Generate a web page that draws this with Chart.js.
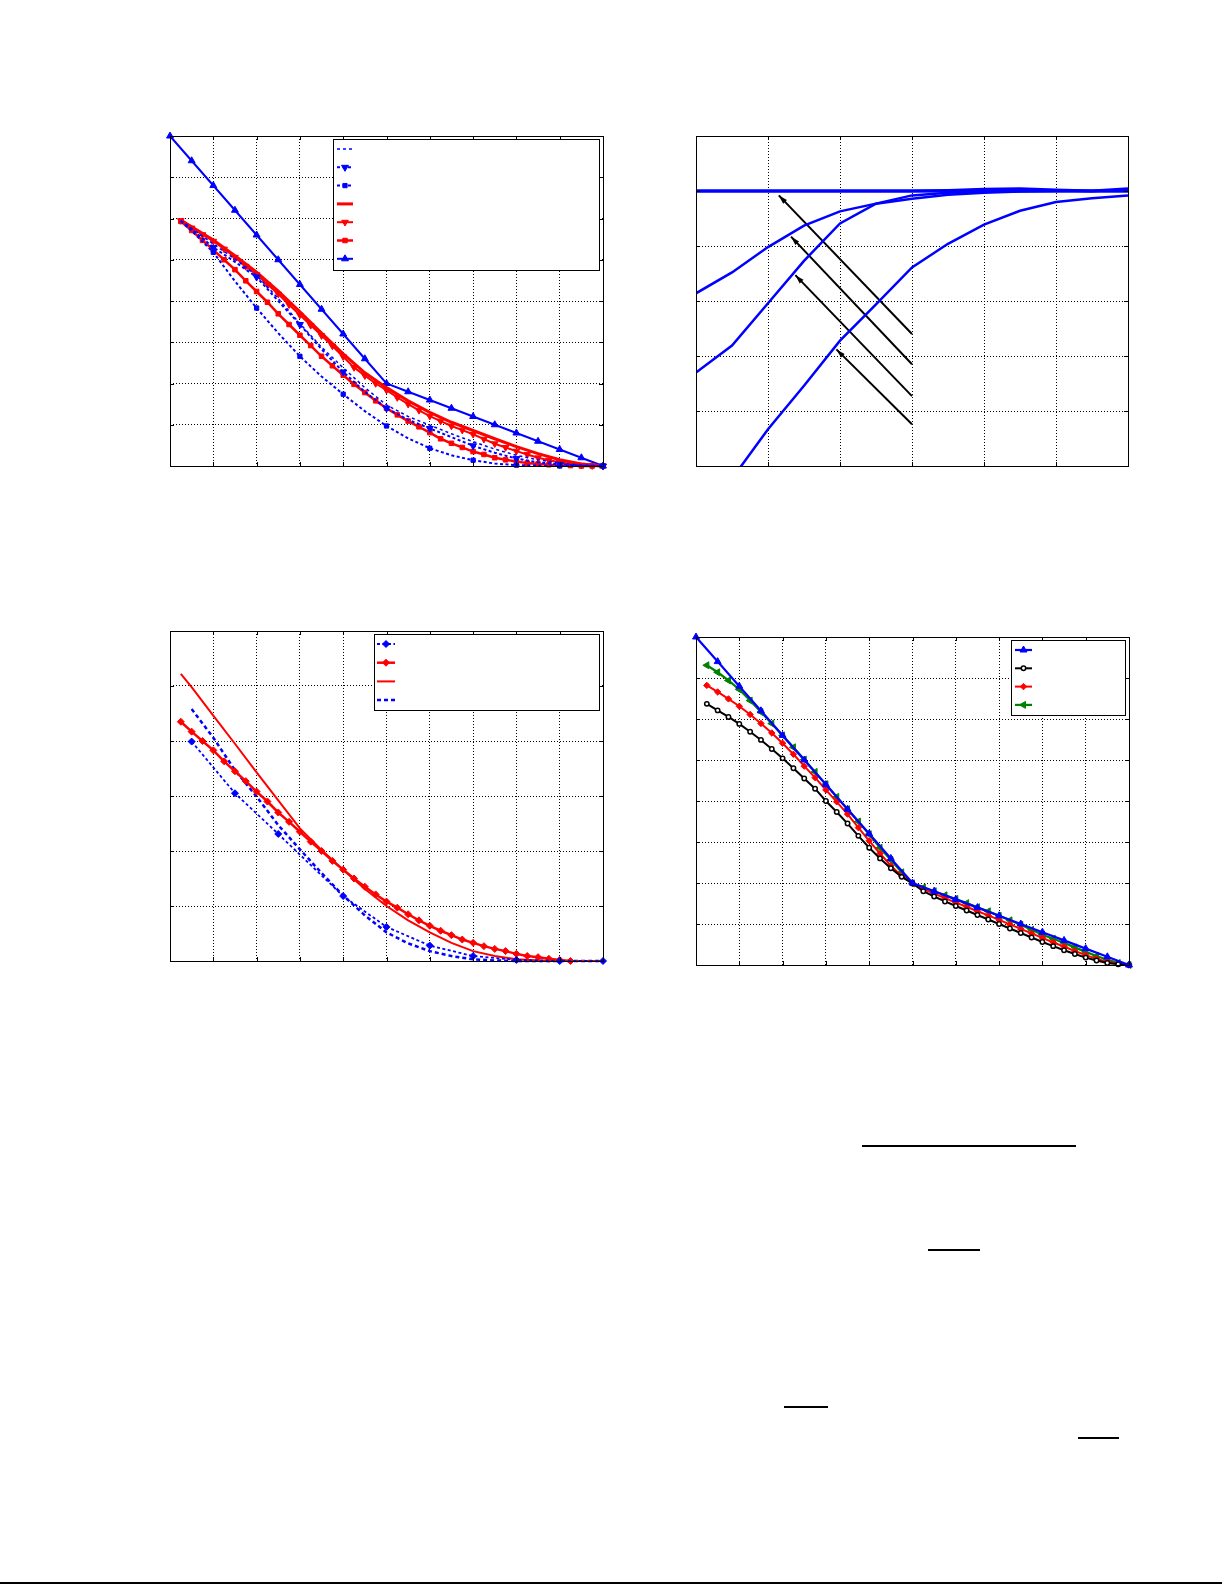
<!DOCTYPE html>
<html>
<head>
<meta charset="utf-8">
<script src="https://cdn.jsdelivr.net/npm/chart.js@4.4.1/dist/chart.umd.min.js"></script>
<style>
  html, body { margin: 0; padding: 0; background: #fff; }
  body { width: 1225px; height: 1585px; position: relative; overflow: hidden; }
  canvas { position: absolute; }
  .rule { position: absolute; height: 2px; background: #000; }
</style>
</head>
<body>
<canvas id="c1"></canvas>
<canvas id="c2"></canvas>
<canvas id="c3"></canvas>
<canvas id="c4"></canvas>

<div class="rule" style="left:862px;top:1145px;width:214px"></div>
<div class="rule" style="left:928px;top:1249px;width:52px"></div>
<div class="rule" style="left:784px;top:1406px;width:44px"></div>
<div class="rule" style="left:1078px;top:1437px;width:41px"></div>
<div class="rule" style="left:0;top:1582px;width:1222px"></div>

<script>
/* ---------- positions en x communes ---------- */
const xQuarter = [0.25,0.5,0.75,1,1.25,1.5,1.75,2,2.25,2.5,2.75,3,3.25,3.5,3.75,4,4.25,4.5,4.75,5,
                  5.25,5.5,5.75,6,6.25,6.5,6.75,7,7.25,7.5,7.75,8,8.25,8.5,8.75,9,9.25,9.5,9.75,10];
const xHalf     = [0,0.5,1,1.5,2,2.5,3,3.5,4,4.5,5,5.5,6,6.5,7,7.5,8,8.5,9,9.5,10];
const xHalfFrom = [0.25,0.5,1,1.5,2,2.5,3,3.5,4,4.5,5,5.5,6,6.5,7,7.5,8,8.5,9,9.5,10];

/* ---------- panneau haut gauche ---------- */
const aBlueThin    = [5.95,5.76,5.38,5.02,4.62,4.06,3.45,2.88,2.38,1.90,1.48,1.20,0.99,0.78,0.59,0.41,0.26,0.15,0.07,0.02,0];
const aBlueTriDown = [5.95,5.74,5.30,4.95,4.58,4.00,3.43,2.83,2.28,1.80,1.40,1.12,0.91,0.70,0.49,0.32,0.18,0.09,0.04,0.01,0];
const aBlueSquare  = [5.93,5.70,5.18,4.48,3.83,3.22,2.66,2.17,1.74,1.33,0.97,0.67,0.43,0.26,0.14,0.06,0.02,0.01,0,0,0];
const aRedThick    = [5.96,5.80,5.48,5.10,4.70,4.24,3.74,3.22,2.72,2.26,1.90,1.58,1.30,1.06,0.86,0.66,0.47,0.30,0.15,0.05,0];
const aRedTriDown  = [5.95,5.77,5.61,5.45,5.26,5.06,4.84,4.64,4.40,4.17,3.91,3.66,3.41,3.16,2.91,2.65,2.39,2.19,2.00,1.84,
                      1.66,1.50,1.35,1.21,1.09,0.97,0.87,0.77,0.65,0.54,0.45,0.36,0.28,0.20,0.14,0.09,0.05,0.02,0.01,0];
const aRedSquare   = [5.93,5.71,5.47,5.24,5.00,4.76,4.49,4.23,3.97,3.69,3.43,3.17,2.92,2.66,2.43,2.20,1.98,1.78,1.58,1.40,
                      1.24,1.09,0.95,0.81,0.66,0.55,0.45,0.35,0.28,0.20,0.15,0.11,0.07,0.05,0.03,0.02,0.01,0,0,0];
const aBlueTriUp   = [8,7.4,6.8,6.2,5.6,5.0,4.4,3.8,3.2,2.6,2.0,1.8,1.6,1.4,1.2,1.0,0.8,0.6,0.4,0.2,0];

/* ---------- panneau haut droit ---------- */
const bX      = [0,0.5,1,1.5,2,2.5,3,3.5,4,4.5,5,5.5,6];
const bCurve1 = [3.14,3.52,3.98,4.37,4.63,4.77,4.86,4.93,4.97,4.99,5.0,5.0,5.0];
const bCurve2 = [1.70,2.19,2.96,3.73,4.41,4.77,4.92,4.97,4.99,5.0,5.0,5.0,5.0];
const bFlat1  = [5,5,5,5,5,5,5,5,5,5,5,5,5];
const bFlat2  = [5,5,5,5,5,5,5,5.01,5.03,5.04,5.02,5.0,5.04];
const bCurve3X = [0.5,1,1.5,2,2.5,3,3.5,4,4.5,5,5.5,6];
const bCurve3  = [-0.23,0.67,1.46,2.28,2.94,3.61,4.04,4.39,4.64,4.80,4.87,4.92];
const arrowTailX = [3.0,3.0,3.0,3.0];
const arrowTailY = [2.40,1.85,1.27,0.76];
const arrowHeadX = [1.15,1.32,1.38,1.95];
const arrowHeadY = [4.92,4.17,3.47,2.12];

/* ---------- panneau bas gauche ---------- */
const cBlueMarkX  = [0.5,1.5,2.5,4,5,6,7,8,9,10];
const cBlueMark   = [3.99,3.05,2.31,1.18,0.62,0.28,0.09,0.02,0,0];
const cRedDiamond = [4.35,4.17,4.00,3.83,3.63,3.45,3.27,3.08,2.90,2.70,2.53,2.35,2.17,2.00,1.82,1.66,1.50,1.35,1.21,1.08,
                     0.97,0.85,0.74,0.64,0.55,0.47,0.39,0.33,0.27,0.22,0.18,0.13,0.09,0.07,0.04,0.02,0];
const cRedThin    = [5.22,4.98,4.46,3.95,3.43,2.92,2.41,2.02,1.66,1.31,1.00,0.74,0.52,0.33,0.18,0.09,0.03,0.01,0,0,0];
const cBlueThickX = [0.5,1,1.5,2,2.5,3,3.5,4,4.5,5,5.5,6,6.5,7,7.5,8,9,10];
const cBlueThick  = [4.58,4.06,3.47,2.99,2.47,2.03,1.60,1.19,0.83,0.52,0.32,0.18,0.09,0.03,0.01,0,0,0];

/* ---------- panneau bas droit ---------- */
const dBlue  = [8,7.4,6.8,6.2,5.6,5.0,4.4,3.8,3.2,2.6,2.0,1.8,1.6,1.4,1.2,1.0,0.8,0.6,0.4,0.2,0];
const dBlack = [6.37,6.21,6.05,5.88,5.69,5.49,5.27,5.04,4.80,4.55,4.30,4.00,3.73,3.45,3.15,2.86,2.60,2.36,2.15,1.99,
                1.80,1.67,1.55,1.44,1.33,1.22,1.11,1.00,0.89,0.78,0.67,0.56,0.46,0.36,0.27,0.18,0.11,0.05,0.02,0];
const dRed   = [6.82,6.66,6.49,6.31,6.11,5.89,5.66,5.41,5.14,4.85,4.57,4.27,3.98,3.68,3.35,3.03,2.72,2.42,2.17,1.99,
                1.85,1.74,1.63,1.52,1.42,1.31,1.21,1.10,0.99,0.88,0.77,0.66,0.55,0.45,0.34,0.24,0.15,0.08,0.03,0];
const dGreen = [7.31,7.14,6.94,6.72,6.45,6.17,5.89,5.60,5.31,5.01,4.71,4.41,4.10,3.80,3.50,3.19,2.86,2.56,2.26,1.99,
                1.89,1.80,1.70,1.61,1.51,1.41,1.31,1.20,1.09,0.98,0.86,0.74,0.64,0.54,0.43,0.32,0.22,0.13,0.05,0];

const BLUE = '#0000ff', RED = '#ff0000', GREEN = '#008000', BLACK = '#000000';
const PAD = 8;

// zone de tracé de chaque panneau : [left, top, width, height]
const PANELS = {
  c1: [170, 136, 433, 330],
  c2: [696, 136, 432, 330],
  c3: [170, 631, 433, 330],
  c4: [696, 637, 433, 328],
};

function series(xs, ys, o) {
  const r = o.r || 0;
  return {
    data: xs.map((x, i) => ({ x, y: ys[i] })),
    borderColor: o.color,
    backgroundColor: o.fill || o.color,
    borderWidth: o.width || 1.5,
    borderDash: o.dash || [],
    pointStyle: o.marker || 'circle',
    pointRadius: o.marker ? (o.intOnly ? (c => Number.isInteger(c.raw.x) ? r : 0) : r) : 0,
    pointRotation: o.rot || 0,
    pointBorderColor: o.color,
    pointBackgroundColor: o.fill || o.color,
    pointBorderWidth: o.pbw || 1,
    pointHoverRadius: 0,
    tension: 0,
    fill: false,
    clip: o.clip === undefined ? false : o.clip,
    arrow: !!o.arrow,
    mk: o.legend ? o : null,
  };
}

// cadre, petites graduations, flèches et légende dessinés à la main
const boxPlugin = {
  id: 'box',
  afterDatasetsDraw(chart) {
    const { ctx, chartArea: a, scales: { x, y } } = chart;
    ctx.save();

    chart.data.datasets.forEach((ds, i) => {
      if (!ds.arrow) return;
      const pts = chart.getDatasetMeta(i).data;
      const p0 = pts[0], p1 = pts[pts.length - 1];
      const ang = Math.atan2(p1.y - p0.y, p1.x - p0.x);
      const L = 9, W = 2.6;
      ctx.fillStyle = ds.borderColor;
      ctx.beginPath();
      ctx.moveTo(p1.x, p1.y);
      ctx.lineTo(p1.x - L * Math.cos(ang) + W * Math.sin(ang), p1.y - L * Math.sin(ang) - W * Math.cos(ang));
      ctx.lineTo(p1.x - L * Math.cos(ang) - W * Math.sin(ang), p1.y - L * Math.sin(ang) + W * Math.cos(ang));
      ctx.closePath();
      ctx.fill();
    });

    ctx.setLineDash([]);
    ctx.strokeStyle = '#000';
    ctx.lineWidth = 1;
    ctx.beginPath();
    x.ticks.forEach(t => {
      const px = Math.round(x.getPixelForValue(t.value)) + 0.5;
      ctx.moveTo(px, a.bottom); ctx.lineTo(px, a.bottom - 4);
      ctx.moveTo(px, a.top); ctx.lineTo(px, a.top + 4);
    });
    y.ticks.forEach(t => {
      const py = Math.round(y.getPixelForValue(t.value)) + 0.5;
      ctx.moveTo(a.left, py); ctx.lineTo(a.left + 4, py);
      ctx.moveTo(a.right, py); ctx.lineTo(a.right - 4, py);
    });
    ctx.stroke();
    ctx.strokeRect(Math.round(a.left) + 0.5, Math.round(a.top) + 0.5, Math.round(a.width), Math.round(a.height));
    ctx.restore();
  },
  afterDraw(chart, args, opts) {
    const lg = opts.legend;
    if (!lg) return;
    const { ctx, chartArea: a } = chart;
    const bx = Math.round(a.left + lg.x) + 0.5, by = Math.round(a.top + lg.y) + 0.5;
    ctx.save();
    ctx.fillStyle = '#fff';
    ctx.fillRect(bx, by, lg.w, lg.h);
    ctx.strokeStyle = '#000';
    ctx.lineWidth = 1;
    ctx.setLineDash([]);
    ctx.strokeRect(bx, by, lg.w, lg.h);

    chart.data.datasets.filter(d => d.mk).forEach((ds, k) => {
      const m = ds.mk;
      const yy = a.top + lg.row0 + k * lg.step;
      const x0 = a.left + lg.sx, x1 = x0 + lg.sw;
      ctx.strokeStyle = m.color;
      ctx.lineWidth = m.width || 1.5;
      ctx.setLineDash(m.dash || []);
      ctx.beginPath(); ctx.moveTo(x0, yy); ctx.lineTo(x1, yy); ctx.stroke();
      if (m.marker) {
        ctx.setLineDash([]);
        ctx.fillStyle = m.fill || m.color;
        ctx.strokeStyle = m.color;
        ctx.lineWidth = m.pbw || 1;
        Chart.helpers.drawPoint(ctx, { pointStyle: m.marker, rotation: m.rot || 0, radius: m.r, borderWidth: m.pbw || 1 }, (x0 + x1) / 2, yy);
      }
    });
    ctx.restore();
  },
};

function axis(max) {
  return {
    type: 'linear', min: 0, max,
    ticks: { display: false, stepSize: 1 },
    grid: { color: '#000', lineWidth: 1, drawTicks: false },
    border: { display: false, dash: [1, 2] },
  };
}

function makeChart(id, datasets, xMax, yMax, legend) {
  const [l, t, w, h] = PANELS[id];
  const cv = document.getElementById(id);
  cv.width = w + 2 * PAD; cv.height = h + 2 * PAD;
  cv.style.left = (l - PAD) + 'px'; cv.style.top = (t - PAD) + 'px';
  cv.style.width = (w + 2 * PAD) + 'px'; cv.style.height = (h + 2 * PAD) + 'px';
  return new Chart(cv, {
    type: 'line',
    data: { datasets },
    options: {
      responsive: false,
      animation: false,
      devicePixelRatio: 1,
      events: [],
      layout: { padding: PAD },
      plugins: { legend: { display: false }, tooltip: { enabled: false }, box: { legend } },
      scales: { x: axis(xMax), y: axis(yMax) },
    },
    plugins: [boxPlugin],
  });
}

/* ---------- haut gauche ---------- */
makeChart('c1', [
  series(xHalfFrom, aBlueThin,    { color: BLUE, width: 1.5, dash: [3, 3], legend: true }),
  series(xHalfFrom, aBlueTriDown, { color: BLUE, width: 2, dash: [3, 2.5], marker: 'triangle', rot: 180, r: 4, intOnly: true, legend: true }),
  series(xHalfFrom, aBlueSquare,  { color: BLUE, width: 2, dash: [3, 2.5], marker: 'rect', r: 3, intOnly: true, legend: true }),
  series(xHalfFrom, aRedThick,    { color: RED, width: 3, legend: true }),
  series(xQuarter,  aRedTriDown,  { color: RED, width: 2, marker: 'triangle', rot: 180, r: 3.8, legend: true }),
  series(xQuarter,  aRedSquare,   { color: RED, width: 2.5, marker: 'rect', r: 3.2, legend: true }),
  series(xHalf,     aBlueTriUp,   { color: BLUE, width: 2, marker: 'triangle', r: 4, legend: true }),
], 10, 8, { x: 163, y: 3, w: 266, h: 131, row0: 13, step: 18.3, sx: 167, sw: 16 });

/* ---------- haut droit ---------- */
const c2Sets = [
  series(bX, bFlat1,  { color: BLUE, width: 3, clip: true }),
  series(bX, bFlat2,  { color: BLUE, width: 3, clip: true }),
  series(bX, bCurve1, { color: BLUE, width: 2.5, clip: true }),
  series(bX, bCurve2, { color: BLUE, width: 2.5, clip: true }),
  series(bCurve3X, bCurve3, { color: BLUE, width: 2.5, clip: true }),
];
arrowTailX.forEach((tx, i) => {
  c2Sets.push(series([tx, arrowHeadX[i]], [arrowTailY[i], arrowHeadY[i]], { color: BLACK, width: 2, arrow: true }));
});
makeChart('c2', c2Sets, 6, 6, null);

/* ---------- bas gauche ---------- */
makeChart('c3', [
  series(cBlueMarkX, cBlueMark, { color: BLUE, width: 1.8, dash: [3, 2.5], marker: 'rectRot', r: 3.5, legend: true }),
  series(xQuarter.slice(0, cRedDiamond.length), cRedDiamond, { color: RED, width: 2.5, marker: 'rectRot', r: 3.5, legend: true }),
  series(xHalfFrom, cRedThin, { color: RED, width: 2, legend: true }),
  series(cBlueThickX, cBlueThick, { color: BLUE, width: 2.5, dash: [4, 3], legend: true }),
], 10, 6, { x: 204, y: 3, w: 225, h: 76, row0: 13, step: 18.7, sx: 207, sw: 18 });

/* ---------- bas droit ---------- */
makeChart('c4', [
  series(xHalf,    dBlue,  { color: BLUE, width: 2.2, marker: 'triangle', r: 4, legend: true }),
  series(xQuarter, dBlack, { color: BLACK, width: 2, marker: 'circle', r: 2.2, fill: '#ffffff', pbw: 1.5, legend: true }),
  series(xQuarter, dRed,   { color: RED, width: 2, marker: 'rectRot', r: 3.2, legend: true }),
  series(xQuarter, dGreen, { color: GREEN, width: 2.2, marker: 'triangle', rot: -90, r: 4, legend: true }),
], 10, 8, { x: 315, y: 3, w: 114, h: 75, row0: 13, step: 18.3, sx: 319, sw: 17 });
</script>
</body>
</html>
